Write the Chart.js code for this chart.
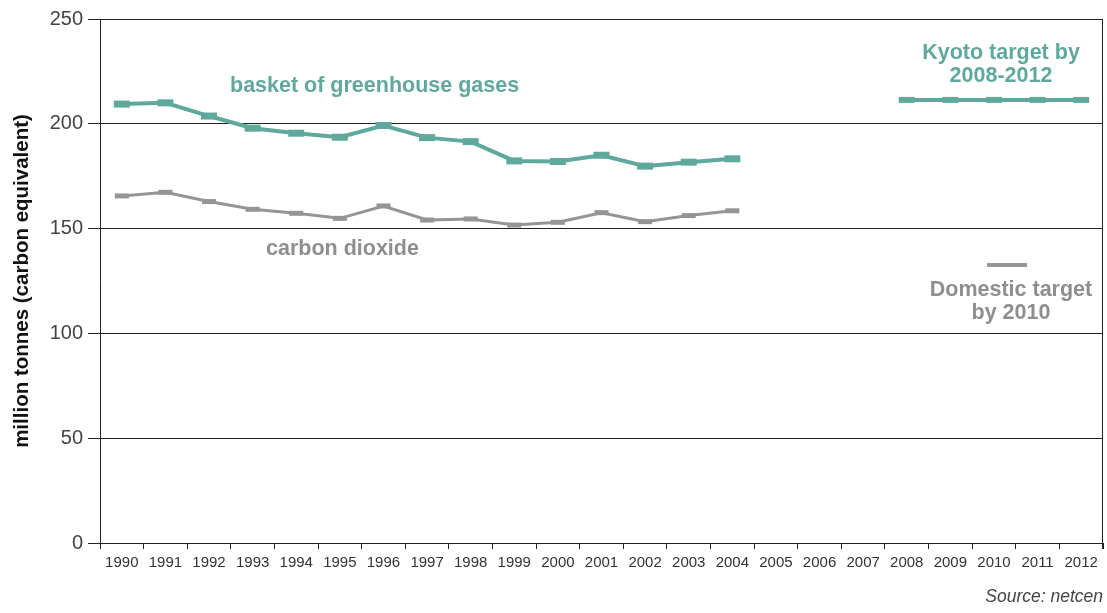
<!DOCTYPE html>
<html>
<head>
<meta charset="utf-8">
<script src="https://cdn.jsdelivr.net/npm/chart.js@4"></script>
<style>
    html, body { margin: 0; padding: 0; background: #fff; }
    #wrap { position: relative; width: 1107px; height: 613px; font-family: "Liberation Sans", Arial, sans-serif; }
    .nota { position: absolute; font-weight: bold; font-size: 21.5px; line-height: 23px; white-space: nowrap; }
    .teal { color: #5fa99c; }
    .cinza { color: #8e8e8e; }
    .centro { text-align: center; }
    #fonte { position: absolute; right: 4px; top: 586px; font-size: 17.5px; font-style: italic; color: #444; }
</style>
</head>
<body>
<div id="wrap">
    <canvas id="grafico" width="1107" height="613"></canvas>
    <div class="nota teal" style="left:230px; top:74px;">basket of greenhouse gases</div>
    <div class="nota cinza" style="left:266px; top:237px;">carbon dioxide</div>
    <div class="nota teal centro" style="left:901px; width:200px; top:41px;">Kyoto target by<br>2008-2012</div>
    <div class="nota cinza centro" style="left:911px; width:200px; top:278px;">Domestic target<br>by 2010</div>
    <div id="fonte">Source: netcen</div>
</div>
<script>
// Dados
const anos = ["1990", "1991", "1992", "1993", "1994", "1995", "1996", "1997", "1998", "1999", "2000",
    "2001", "2002", "2003", "2004", "2005", "2006", "2007", "2008", "2009", "2010", "2011", "2012"];

const cestaGases = [209.4, 210.0, 203.7, 197.9, 195.5, 193.6, 199.2, 193.4, 191.5, 182.3, 182.0,
    185.0, 179.8, 181.7, 183.3];

const dioxidoCarbono = [165.6, 167.3, 162.9, 159.2, 157.3, 154.9, 160.8, 154.1, 154.6, 151.7, 153.0,
    157.6, 153.3, 156.2, 158.5];

const metaKyoto = [null, null, null, null, null, null, null, null, null, null, null, null,
    null, null, null, null, null, null, 211.4, 211.4, 211.4, 211.4, 211.4];

const metaDomestica = [{ x: 2010.3, y: 132.6 }];

const ticksY = [0, 50, 100, 150, 200, 250];

const TEAL = "#5fa99c";
const CINZA = "#959595";

// borda direita da área do gráfico
const bordaDireita = {
    id: "bordaDireita",
    afterDraw(chart) {
        const { ctx, chartArea } = chart;
        ctx.save();
        ctx.strokeStyle = "#222";
        ctx.lineWidth = 1;
        ctx.beginPath();
        ctx.moveTo(chartArea.right - 0.5, chartArea.top);
        ctx.lineTo(chartArea.right - 0.5, chartArea.bottom + 6);
        ctx.stroke();
        ctx.restore();
    }
};

new Chart(document.getElementById("grafico"), {
    type: "line",
    data: {
        labels: anos,
        datasets: [
            {
                label: "basket of greenhouse gases",
                data: cestaGases,
                borderColor: TEAL, borderWidth: 4,
                pointStyle: "line", pointRadius: 8, pointBorderWidth: 7,
                pointBorderColor: TEAL, tension: 0
            },
            {
                label: "carbon dioxide",
                data: dioxidoCarbono,
                borderColor: CINZA, borderWidth: 3,
                pointStyle: "line", pointRadius: 7, pointBorderWidth: 5,
                pointBorderColor: CINZA, tension: 0
            },
            {
                label: "Kyoto target",
                data: metaKyoto,
                borderColor: TEAL, borderWidth: 4,
                pointStyle: "line", pointRadius: 8, pointBorderWidth: 6,
                pointBorderColor: TEAL, tension: 0
            },
            {
                label: "Domestic target",
                data: metaDomestica,
                xAxisID: "xLin",
                showLine: false,
                pointStyle: "line", pointRadius: 20, pointBorderWidth: 4,
                pointBorderColor: CINZA
            }
        ]
    },
    options: {
        responsive: false, animation: false,
        events: [],
        layout: { autoPadding: false, padding: { left: 10, right: 4, top: 19, bottom: 40 } },
        plugins: { legend: { display: false }, tooltip: { enabled: false } },
        scales: {
            x: {
                type: "category",
                offset: true,
                grid: { offset: true, drawOnChartArea: false, drawTicks: true, tickLength: 6, color: "#222" },
                border: { color: "#222" },
                ticks: { color: "#333", font: { size: 15, family: "Liberation Sans" }, maxRotation: 0, autoSkip: false, padding: 5 },
                afterFit: (s) => { s.height = 30; }
            },
            xLin: {
                type: "linear",
                display: false,
                min: 1989.5, max: 2012.5
            },
            y: {
                min: 0, max: 250,
                afterBuildTicks: (s) => { s.ticks = ticksY.map(v => ({ value: v })); },
                grid: { color: "#222", tickLength: 12 },
                border: { color: "#222" },
                ticks: { color: "#444", font: { size: 20, family: "Liberation Sans" }, padding: 5 },
                title: {
                    display: true,
                    text: "million tonnes (carbon equivalent)",
                    color: "#111",
                    font: { size: 20.5, weight: "bold", family: "Liberation Sans" },
                    padding: { top: 0, bottom: 0 }
                },
                afterFit: (s) => { s.width = 90; }
            }
        }
    },
    plugins: [bordaDireita]
});
</script>
</body>
</html>
